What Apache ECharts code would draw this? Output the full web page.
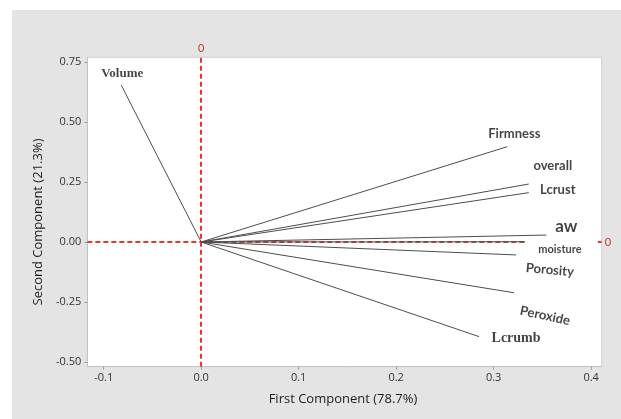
<!DOCTYPE html>
<html>
<head>
<meta charset="utf-8">
<title>Loading plot</title>
<script src="https://cdn.jsdelivr.net/npm/echarts@6/dist/echarts.min.js"></script>
<style>
  html, body { margin: 0; padding: 0; background: #ffffff; }
  #chart { width: 621px; height: 419px; }
</style>
</head>
<body>
<div id="chart"></div>
<script>
// PCA loading vectors: first and second component coefficients
const variables = ['Volume', 'Firmness', 'overall', 'Lcrust', 'aw', 'moisture', 'Porosity', 'Peroxide', 'Lcrumb'];
const pc1 = [-0.082, 0.314, 0.336, 0.336, 0.354, 0.332, 0.323, 0.321, 0.285];
const pc2 = [0.655, 0.398, 0.242, 0.206, 0.029, 0.001, -0.054, -0.212, -0.395];

// Axis tick values
const xTicks = [-0.1, 0.0, 0.1, 0.2, 0.3, 0.4];
const yTicks = [-0.50, -0.25, 0.00, 0.25, 0.50, 0.75];

// Axis extents
const xMin = -0.1168, xMax = 0.4108;
const yMin = -0.5205, yMax = 0.771;

const sans = "'Lato', 'Open Sans', sans-serif";
const serif = "'Liberation Serif', 'DejaVu Serif', serif";

// Label appearance for each vector tip
const labelStyle = {
  Volume:   { offset: [1, -11], fontFamily: serif, fontSize: 13, fontWeight: 'bold' },
  Firmness: { offset: [7, -13], fontSize: 13 },
  overall:  { offset: [24, -18], fontSize: 13 },
  Lcrust:   { offset: [29, -3], fontSize: 13 },
  aw:       { offset: [20, -9], fontSize: 17 },
  moisture: { offset: [35, 8], fontSize: 11 },
  Porosity: { offset: [35, 12], fontSize: 13, rotate: -5 },
  Peroxide: { offset: [35, 16], fontSize: 13, rotate: -12 },
  Lcrumb:   { offset: [37, 2], fontFamily: serif, fontSize: 14, fontWeight: 'bold' }
};

const vectorSeries = variables.map((name, i) => ({
  type: 'line',
  name: name,
  data: [[0, 0], [pc1[i], pc2[i]]],
  symbol: 'none',
  silent: true,
  z: 3,
  lineStyle: { color: '#4d4d4d', width: 1 }
}));

const labelSeries = {
  type: 'scatter',
  symbolSize: 0,
  silent: true,
  z: 20,
  data: variables.map((name, i) => {
    const s = labelStyle[name];
    return {
      value: [pc1[i], pc2[i]],
      name: name,
      label: Object.assign({
        show: true,
        position: 'inside',
        formatter: name,
        color: '#141414',
        fontFamily: sans,
        fontWeight: 'bold'
      }, s)
    };
  })
};

// Red dashed reference lines through the origin; the horizontal one
// stops where the moisture label sits and resumes at the plot edge.
const moistureX = pc1[variables.indexOf('moisture')];
const refLabel = {
  show: true,
  position: 'end',
  formatter: '0',
  color: '#c0392b',
  fontSize: 11,
  fontFamily: sans,
  distance: 3
};
const refSeries = {
  type: 'line',
  data: [],
  silent: true,
  z: 1,
  markLine: {
    silent: true,
    z: 1,
    symbol: 'none',
    lineStyle: { color: '#e8373a', type: [5, 3], width: 2 },
    label: refLabel,
    data: [
      { xAxis: 0 },
      [{ coord: [xMin, 0] }, { coord: [moistureX, 0], label: { show: false } }],
      [{ coord: [xMax - 0.004, 0] }, { coord: [xMax, 0] }]
    ]
  }
};

const chart = echarts.init(document.getElementById('chart'), null, { renderer: 'canvas' });

chart.setOption({
  animation: false,
  backgroundColor: '#ffffff',
  graphic: [
    {
      type: 'rect',
      z: -10,
      shape: { x: 12, y: 10, width: 609, height: 409 },
      style: { fill: '#e4e4e4' }
    },
    {
      type: 'text',
      x: 343, y: 399,
      style: {
        text: 'First Component (78.7%)',
        fill: '#1e1e1e',
        font: "13px 'Open Sans', sans-serif",
        align: 'center',
        verticalAlign: 'middle'
      }
    },
    {
      type: 'text',
      x: 38, y: 222,
      rotation: Math.PI / 2,
      style: {
        text: 'Second Component (21.3%)',
        fill: '#1e1e1e',
        font: "13px 'Open Sans', sans-serif",
        align: 'center',
        verticalAlign: 'middle'
      }
    }
  ],
  grid: {
    left: 87.3, top: 57.3, right: 19.3, bottom: 52.3,
    show: true,
    backgroundColor: '#ffffff',
    borderColor: '#d0d0d0',
    borderWidth: 1
  },
  xAxis: {
    type: 'value',
    min: xMin,
    max: xMax,
    splitLine: { show: false },
    axisLine: { show: true, onZero: false, lineStyle: { color: '#c4c4c4' } },
    axisTick: { show: true, length: 3, lineStyle: { color: '#a0a0a0' }, customValues: xTicks },
    axisLabel: {
      customValues: xTicks,
      formatter: v => v.toFixed(1),
      color: '#333333',
      fontFamily: "'Open Sans', sans-serif",
      fontSize: 11,
      margin: 6
    }
  },
  yAxis: {
    type: 'value',
    min: yMin,
    max: yMax,
    splitLine: { show: false },
    axisLine: { show: true, onZero: false, lineStyle: { color: '#c4c4c4' } },
    axisTick: { show: true, length: 3, lineStyle: { color: '#a0a0a0' }, customValues: yTicks },
    axisLabel: {
      customValues: yTicks,
      formatter: v => v.toFixed(2),
      color: '#333333',
      fontFamily: "'Open Sans', sans-serif",
      fontSize: 11,
      margin: 6
    }
  },
  series: [refSeries, ...vectorSeries, labelSeries]
});
</script>
</body>
</html>
